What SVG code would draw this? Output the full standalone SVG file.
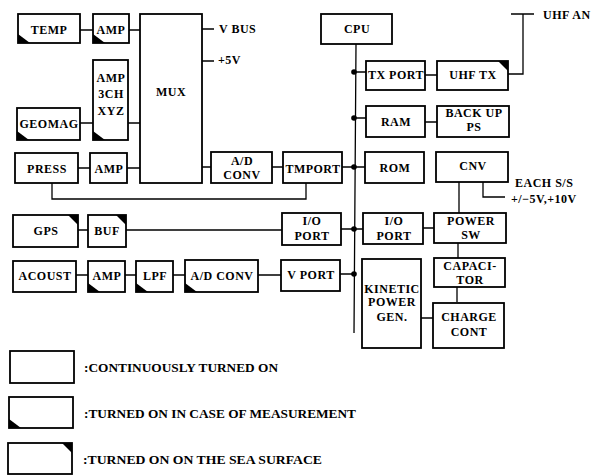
<svg xmlns="http://www.w3.org/2000/svg" width="603" height="475" viewBox="0 0 603 475">
<style>
.b{fill:#fff;stroke:#000;stroke-width:1.8}
.c{fill:none;stroke:#000;stroke-width:1.3}
.m{fill:#000}
text{font-family:"Liberation Serif","Times New Roman",serif;font-weight:bold;font-size:12px;letter-spacing:0.5px;fill:#000;text-anchor:middle}
.l{text-anchor:start}
.g{font-size:12.5px;letter-spacing:0}
</style>
<g id="connectors">
<path class="c" d="M80 30H93M129 30H140M80 123H93M128 123H140M78 168H90M127 168H140M202 29H214M202 61H214M202 167H211M272 167H283M342 167H365"/>
<path class="c" d="M52 183V199H306V183"/>
<path class="c" d="M78 230H88M126 230H282M341 229H363M423 228H434M76 275H88M125 275H136M173 275H185M258 275H281M340 274H354"/>
<path class="c" d="M356 44L354 333M354 72H366M354 118H366M425 75H437M425 122H437M508 74H523V14M511 14H534"/>
<path class="c" d="M459 182V213M483 182V197H505M458 243V258M457 287V302M421 318H433"/>
<circle class="m" cx="354" cy="72" r="2.8"/>
<circle class="m" cx="354" cy="118" r="2.8"/>
<circle class="m" cx="354" cy="167" r="2.8"/>
<circle class="m" cx="354" cy="229" r="2.8"/>
<circle class="m" cx="354" cy="274" r="2.8"/>
</g>
<g id="temp"><rect class="b" x="18" y="14" width="62" height="29"/><path class="m" d="M18 34L18 43H30Z"/><text x="49" y="34">TEMP</text></g>
<g id="amp1"><rect class="b" x="93" y="14" width="36" height="29"/><path class="m" d="M93 34L93 43H105Z"/><text x="111" y="34">AMP</text></g>
<g id="mux"><rect class="b" x="140" y="14" width="62" height="169"/><text x="171" y="96">MUX</text></g>
<g id="amp3"><rect class="b" x="93" y="60" width="35" height="80"/><path class="m" d="M93 131L93 140H105Z"/><text x="111" y="82">AMP</text><text x="111" y="98">3CH</text><text x="111" y="115">XYZ</text></g>
<g id="geomag"><rect class="b" x="17" y="108" width="63" height="32"/><path class="m" d="M17 131L17 140H29Z"/><text x="49" y="128">GEOMAG</text></g>
<g id="press"><rect class="b" x="15" y="153" width="63" height="30"/><text x="47" y="173">PRESS</text></g>
<g id="amp2"><rect class="b" x="90" y="153" width="37" height="30"/><text x="109" y="173">AMP</text></g>
<g id="adconv1"><rect class="b" x="211" y="152" width="61" height="31"/><text x="242" y="165">A/D</text><text x="242" y="179">CONV</text></g>
<g id="tmport"><rect class="b" x="283" y="152" width="59" height="31"/><text x="313" y="173">TMPORT</text></g>
<g id="cpu"><rect class="b" x="321" y="14" width="71" height="30"/><text x="357" y="33">CPU</text></g>
<g id="txport"><rect class="b" x="366" y="61" width="59" height="29"/><text x="396" y="79">TX PORT</text></g>
<g id="uhftx"><rect class="b" x="437" y="61" width="71" height="29"/><path class="m" d="M498 61H508V71Z"/><text x="473" y="79">UHF TX</text></g>
<g id="ram"><rect class="b" x="366" y="106" width="59" height="31"/><text x="396" y="126">RAM</text></g>
<g id="backup"><rect class="b" x="437" y="106" width="72" height="31"/><text x="474" y="117">BACK UP</text><text x="474" y="131">PS</text></g>
<g id="rom"><rect class="b" x="365" y="152" width="59" height="31"/><text x="395" y="172">ROM</text></g>
<g id="cnv"><rect class="b" x="436" y="152" width="72" height="30"/><text x="473" y="170">CNV</text></g>
<g id="gps"><rect class="b" x="13" y="215" width="65" height="32"/><path class="m" d="M68 215H78V225Z"/><text x="46" y="235">GPS</text></g>
<g id="buf"><rect class="b" x="88" y="215" width="38" height="32"/><path class="m" d="M116 215H126V225Z"/><text x="107" y="235">BUF</text></g>
<g id="ioport1"><rect class="b" x="282" y="213" width="59" height="32"/><text x="312" y="225">I/O</text><text x="312" y="240">PORT</text></g>
<g id="ioport2"><rect class="b" x="363" y="213" width="60" height="31"/><text x="394" y="225">I/O</text><text x="394" y="240">PORT</text></g>
<g id="powersw"><rect class="b" x="434" y="213" width="72" height="30"/><text x="471" y="225">POWER</text><text x="471" y="239">SW</text></g>
<g id="acoust"><rect class="b" x="13" y="261" width="63" height="31"/><text x="45" y="280">ACOUST</text></g>
<g id="amp4"><rect class="b" x="88" y="261" width="37" height="31"/><path class="m" d="M88 283L88 292H100Z"/><text x="107" y="280">AMP</text></g>
<g id="lpf"><rect class="b" x="136" y="261" width="37" height="31"/><path class="m" d="M136 283L136 292H148Z"/><text x="155" y="280">LPF</text></g>
<g id="adconv2"><rect class="b" x="185" y="260" width="73" height="32"/><path class="m" d="M185 283L185 292H197Z"/><text x="222" y="280">A/D CONV</text></g>
<g id="vport"><rect class="b" x="281" y="260" width="59" height="31"/><text x="311" y="279">V PORT</text></g>
<g id="kinetic"><rect class="b" x="362" y="259" width="59" height="89"/><text x="392" y="293">KINETIC</text><text x="392" y="306">POWER</text><text x="392" y="321">GEN.</text></g>
<g id="capacitor"><rect class="b" x="434" y="258" width="71" height="29"/><text x="470" y="270">CAPACI-</text><text x="470" y="284">TOR</text></g>
<g id="chargecont"><rect class="b" x="433" y="303" width="71" height="45"/><text x="469" y="321">CHARGE</text><text x="469" y="336">CONT</text></g>
<g id="labels">
<text class="l" x="219" y="33">V BUS</text>
<text class="l" x="218" y="64">+5V</text>
<text class="l" x="543" y="19">UHF AN</text>
<text class="l" x="515" y="187">EACH S/S</text>
<text class="l" x="511" y="203">+/−5V,+10V</text>
</g>
<g id="legend">
<rect class="b" x="10" y="351" width="64" height="32"/>
<text class="l g" x="84" y="372" textLength="194" lengthAdjust="spacingAndGlyphs">:CONTINUOUSLY TURNED ON</text>
<rect class="b" x="9" y="397" width="64" height="31"/><path class="m" d="M9 419L9 428H21Z"/>
<text class="l g" x="84" y="418" textLength="272" lengthAdjust="spacingAndGlyphs">:TURNED ON IN CASE OF MEASUREMENT</text>
<rect class="b" x="8" y="443" width="64" height="31"/><path class="m" d="M62 443H72V453Z"/>
<text class="l g" x="83" y="464" textLength="239" lengthAdjust="spacingAndGlyphs">:TURNED ON ON THE SEA SURFACE</text>
</g>
</svg>
